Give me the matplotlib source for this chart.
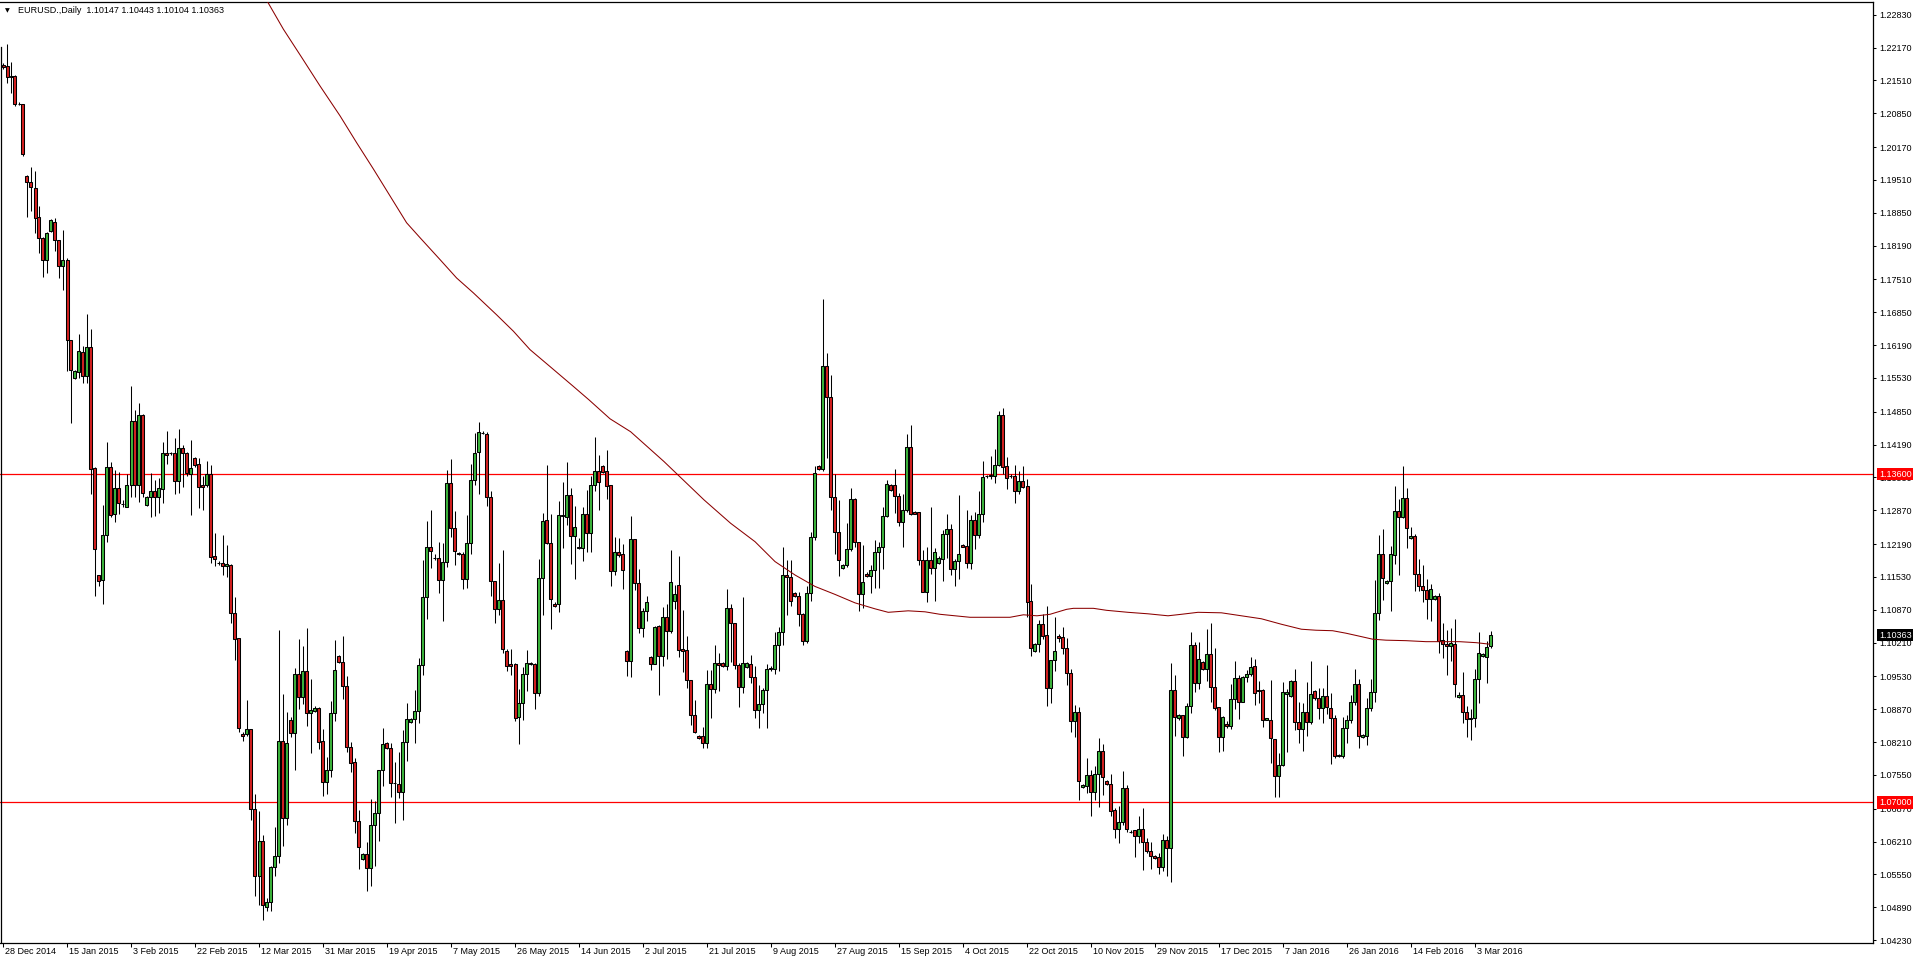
import matplotlib.pyplot as plt
import numpy as np

plt.rcParams['font.family'] = ['Liberation Sans', 'DejaVu Sans']

symbol = 'EURUSD.,Daily'

# daily OHLC, 28 Dec 2014 .. 8 Mar 2016 (broker has Sunday bars)
opens = [
    1.2183, 1.2180, 1.2158, 1.2159, 1.2103, 1.2103, 1.1958, 1.1947, 1.1934, 1.1876,
    1.1835, 1.1791, 1.1849, 1.1867, 1.1830, 1.1778, 1.1791, 1.1629, 1.1553, 1.1566,
    1.1605, 1.1556, 1.1616, 1.1372, 1.1156, 1.1147, 1.1238, 1.1374, 1.1279, 1.1331,
    1.1299, 1.1294, 1.1337, 1.1466, 1.1337, 1.1478, 1.1298, 1.1314, 1.1326, 1.1314,
    1.1330, 1.1402, 1.1402, 1.1402, 1.1346, 1.1412, 1.1403, 1.1360, 1.1393, 1.1380,
    1.1337, 1.1337, 1.1361, 1.1195, 1.1181, 1.1181, 1.1176, 1.1178, 1.1080, 1.1031,
    1.0837, 1.0837, 1.0847, 1.0687, 1.0551, 1.0622, 1.0489, 1.0500, 1.0571, 1.0593,
    1.0823, 1.0669, 1.0866, 1.0839, 1.0958, 1.0912, 1.0964, 1.0879, 1.0884, 1.0889,
    1.0824, 1.0740, 1.0766, 1.0880, 1.0994, 1.0983, 1.0933, 1.0811, 1.0781, 1.0662,
    1.0586, 1.0596, 1.0568, 1.0654, 1.0678, 1.0765, 1.0819, 1.0810, 1.0738, 1.0737,
    1.0721, 1.0821, 1.0862, 1.0867, 1.0884, 1.0976, 1.1113, 1.1213, 1.1192, 1.1192,
    1.1146, 1.1184, 1.1341, 1.1251, 1.1201, 1.1199, 1.1149, 1.1221, 1.1348, 1.1405,
    1.1443, 1.1440, 1.1313, 1.1144, 1.1089, 1.1106, 1.1004, 1.0978, 1.0979, 1.0872,
    1.0899, 1.0957, 1.0981, 1.0979, 1.0920, 1.1150, 1.1267, 1.1222, 1.1099, 1.1098,
    1.1276, 1.1274, 1.1318, 1.1236, 1.1213, 1.1212, 1.1279, 1.1242, 1.1337, 1.1366,
    1.1376, 1.1366, 1.1338, 1.1166, 1.1203, 1.1199, 1.1004, 1.0985, 1.1229, 1.1141,
    1.1051, 1.1085, 1.0992, 1.0979, 1.1055, 1.0995, 1.1072, 1.1045, 1.1105, 1.1137,
    1.1008, 1.1006, 1.0946, 1.0876, 1.0834, 1.0834, 1.0820, 1.0937, 1.0927, 1.0981,
    1.0981, 1.0975, 1.1090, 1.1060, 1.0977, 1.0931, 1.0972, 1.0979, 1.0951, 1.0886,
    1.0898, 1.0925, 1.0970, 1.0968, 1.1017, 1.1043, 1.1157, 1.1152, 1.1120, 1.1115,
    1.1078, 1.1025, 1.1121, 1.1233, 1.1376, 1.1371, 1.1577, 1.1515, 1.1313, 1.1244,
    1.1172, 1.1177, 1.1209, 1.1310, 1.1223, 1.1118, 1.1160, 1.1154, 1.1167, 1.1203,
    1.1214, 1.1276, 1.1337, 1.1337, 1.1316, 1.1263, 1.1288, 1.1414, 1.1283, 1.1283,
    1.1187, 1.1123, 1.1187, 1.1172, 1.1182, 1.1190, 1.1239, 1.1249, 1.1170, 1.1185,
    1.1217, 1.1215, 1.1182, 1.1267, 1.1237, 1.1280, 1.1356, 1.1355, 1.1355, 1.1379,
    1.1479, 1.1376, 1.1356, 1.1356, 1.1326, 1.1346, 1.1336, 1.1105, 1.1005, 1.1018,
    1.1058, 1.1036, 1.0929, 1.0986, 1.1035, 1.1032, 1.1011, 1.0961, 1.0864, 1.0881,
    1.0730, 1.0733, 1.0755, 1.0720, 1.0758, 1.0804, 1.0742, 1.0736, 1.0684, 1.0646,
    1.0660, 1.0728, 1.0641, 1.0644, 1.0633, 1.0646, 1.0620, 1.0603, 1.0593, 1.0591,
    1.0571, 1.0624, 1.0608, 1.0926, 1.0869, 1.0876, 1.0831, 1.0894, 1.1016, 1.0939,
    1.0983, 1.0969, 1.0998, 1.0931, 1.0891, 1.0832, 1.0858, 1.0854, 1.0907, 1.0949,
    1.0902, 1.0951, 1.0959, 1.0974, 1.0926, 1.0926, 1.0866, 1.0866, 1.0828, 1.0752,
    1.0775, 1.0918, 1.0914, 1.0944, 1.0861, 1.0847, 1.0881, 1.0861, 1.0924, 1.0909,
    1.0889, 1.0914, 1.0889, 1.0869, 1.0793, 1.0793, 1.0849, 1.0866, 1.0901, 1.0937,
    1.0832, 1.0833, 1.0889, 1.0922, 1.1080, 1.1199, 1.1140, 1.1144, 1.1197, 1.1286,
    1.1274, 1.1311, 1.1232, 1.1236, 1.1160, 1.1135, 1.1127, 1.1108, 1.1108, 1.1115,
    1.1026, 1.1018, 1.1015, 1.1018, 1.0911, 1.0916, 1.0882, 1.0867, 1.0869, 1.0947,
    1.0994, 1.0992, 1.10147,
]
highs = [
    1.2186, 1.2224, 1.2188, 1.2161, 1.2108, 1.2104, 1.1960, 1.1978, 1.1969, 1.1898,
    1.1836, 1.1846, 1.1872, 1.1874, 1.1831, 1.1850, 1.1794, 1.1630, 1.1570, 1.1641,
    1.1617, 1.1682, 1.1652, 1.1375, 1.1157, 1.1297, 1.1425, 1.1385, 1.1368, 1.1365,
    1.1308, 1.1361, 1.1537, 1.1488, 1.1502, 1.1480, 1.1315, 1.1363, 1.1348, 1.1352,
    1.1425, 1.1447, 1.1405, 1.1432, 1.1451, 1.1418, 1.1404, 1.1429, 1.1394, 1.1392,
    1.1356, 1.1387, 1.1378, 1.1242, 1.1185, 1.1238, 1.1217, 1.1180, 1.1112, 1.1031,
    1.0841, 1.0906, 1.0848, 1.0716, 1.0683, 1.0634, 1.0507, 1.0572, 1.0650, 1.1046,
    1.0918, 1.0882, 1.0871, 1.0970, 1.1029, 1.1015, 1.1050, 1.0948, 1.0893, 1.0892,
    1.0847, 1.0792, 1.0903, 1.1026, 1.0996, 1.1034, 1.0953, 1.0821, 1.0789, 1.0685,
    1.0598, 1.0620, 1.0707, 1.0702, 1.0766, 1.0849, 1.0821, 1.0819, 1.0782, 1.0802,
    1.0845, 1.0900, 1.0869, 1.0926, 1.0990, 1.1187, 1.1265, 1.1288, 1.1200, 1.1223,
    1.1221, 1.1368, 1.1390, 1.1286, 1.1204, 1.1204, 1.1278, 1.1381, 1.1442, 1.1464,
    1.1446, 1.1444, 1.1326, 1.1145, 1.1182, 1.1207, 1.1008, 1.1009, 1.0980, 1.0928,
    1.0973, 1.1006, 1.0983, 1.0980, 1.1190, 1.1282, 1.1378, 1.1279, 1.1102, 1.1306,
    1.1343, 1.1385, 1.1331, 1.1296, 1.1231, 1.1293, 1.1328, 1.1355, 1.1435, 1.1398,
    1.1379, 1.1408, 1.1338, 1.1234, 1.1231, 1.1219, 1.1006, 1.1276, 1.1230, 1.1170,
    1.1091, 1.1115, 1.0994, 1.1055, 1.1056, 1.1093, 1.1099, 1.1207, 1.1137, 1.1195,
    1.1087, 1.1034, 1.0946, 1.0906, 1.0836, 1.0851, 1.0967, 1.0967, 1.1016, 1.1001,
    1.0983, 1.1129, 1.1099, 1.1061, 1.0981, 1.1113, 1.0982, 1.0996, 1.0975, 1.0935,
    1.0930, 1.0978, 1.0975, 1.1043, 1.1053, 1.1214, 1.1187, 1.1187, 1.1123, 1.1123,
    1.1080, 1.1134, 1.1243, 1.1377, 1.1378, 1.1712, 1.1604, 1.1559, 1.1360, 1.1308,
    1.1180, 1.1261, 1.1331, 1.1311, 1.1224, 1.1217, 1.1163, 1.1177, 1.1227, 1.1224,
    1.1294, 1.1347, 1.1340, 1.1371, 1.1321, 1.1320, 1.1440, 1.1458, 1.1285, 1.1284,
    1.1207, 1.1214, 1.1293, 1.1212, 1.1195, 1.1247, 1.1280, 1.1259, 1.1189, 1.1318,
    1.1220, 1.1288, 1.1277, 1.1284, 1.1326, 1.1386, 1.1358, 1.1396, 1.1410, 1.1487,
    1.1492, 1.1395, 1.1359, 1.1378, 1.1366, 1.1376, 1.1350, 1.1139, 1.1020, 1.1066,
    1.1078, 1.1095, 1.0987, 1.1073, 1.1038, 1.1052, 1.1031, 1.0968, 1.0896, 1.0892,
    1.0736, 1.0790, 1.0765, 1.0774, 1.0830, 1.0817, 1.0744, 1.0758, 1.0689, 1.0693,
    1.0763, 1.0735, 1.0644, 1.0645, 1.0673, 1.0688, 1.0628, 1.0620, 1.0594, 1.0598,
    1.0636, 1.0632, 1.0981, 1.0956, 1.0878, 1.0876, 1.0900, 1.1043, 1.1022, 1.1023,
    1.0984, 1.1048, 1.1060, 1.1010, 1.0891, 1.0874, 1.0864, 1.0938, 1.0985, 1.0956,
    1.0954, 1.0967, 1.0993, 1.0989, 1.0944, 1.0927, 1.0870, 1.0946, 1.0828, 1.0800,
    1.0941, 1.0927, 1.0946, 1.0968, 1.0901, 1.0899, 1.0941, 1.0984, 1.0926, 1.0929,
    1.0929, 1.0976, 1.0920, 1.0876, 1.0797, 1.0872, 1.0876, 1.0916, 1.0968, 1.0948,
    1.0838, 1.0910, 1.0948, 1.1146, 1.1237, 1.1249, 1.1146, 1.1215, 1.1336, 1.1309,
    1.1376, 1.1331, 1.1253, 1.1239, 1.1190, 1.1177, 1.1148, 1.1139, 1.1117, 1.1120,
    1.1061, 1.1047, 1.1050, 1.1069, 1.0921, 1.0963, 1.0894, 1.0887, 1.0969, 1.1042,
    1.1001, 1.1024, 1.10443,
]
lows = [
    1.2175, 1.2145, 1.2125, 1.2099, 1.2101, 1.2000, 1.1876, 1.1888, 1.1844, 1.1804,
    1.1755, 1.1764, 1.1846, 1.1808, 1.1753, 1.1729, 1.1568, 1.1462, 1.1550, 1.1552,
    1.1543, 1.1543, 1.1319, 1.1114, 1.1134, 1.1099, 1.1224, 1.1273, 1.1264, 1.1280,
    1.1293, 1.1293, 1.1314, 1.1314, 1.1304, 1.1314, 1.1296, 1.1273, 1.1275, 1.1282,
    1.1302, 1.1381, 1.1398, 1.1320, 1.1322, 1.1334, 1.1355, 1.1277, 1.1375, 1.1292,
    1.1287, 1.1333, 1.1182, 1.1175, 1.1177, 1.1157, 1.1152, 1.1060, 1.0986, 1.0842,
    1.0823, 1.0834, 1.0664, 1.0511, 1.0494, 1.0463, 1.0481, 1.0481, 1.0551, 1.0579,
    1.0612, 1.0655, 1.0832, 1.0766, 1.0888, 1.0898, 1.0854, 1.0799, 1.0881, 1.0808,
    1.0712, 1.0717, 1.0751, 1.0863, 1.0981, 1.0908, 1.0802, 1.0762, 1.0638, 1.0567,
    1.0584, 1.0522, 1.0532, 1.0572, 1.0623, 1.0732, 1.0808, 1.0711, 1.0659, 1.0708,
    1.0665, 1.0784, 1.0860, 1.0819, 1.0859, 1.0956, 1.1069, 1.1172, 1.1187, 1.1120,
    1.1065, 1.1174, 1.1234, 1.1177, 1.1198, 1.1129, 1.1130, 1.1199, 1.1338, 1.1320,
    1.1440, 1.1296, 1.1115, 1.1061, 1.1077, 1.1001, 1.0965, 1.0956, 1.0864, 1.0817,
    1.0866, 1.0924, 1.0976, 1.0887, 1.0914, 1.1077, 1.1219, 1.1048, 1.1093, 1.1083,
    1.1212, 1.1257, 1.1179, 1.1149, 1.1209, 1.1185, 1.1204, 1.1204, 1.1326, 1.1288,
    1.1363, 1.1309, 1.1134, 1.1157, 1.1194, 1.1128, 1.0954, 1.0952, 1.1126, 1.1041,
    1.1032, 1.1064, 1.0967, 1.0978, 1.0916, 1.0975, 1.0989, 1.1040, 1.1088, 1.0993,
    1.0963, 1.0929, 1.0855, 1.0839, 1.0828, 1.0809, 1.0810, 1.0869, 1.0920, 1.0924,
    1.0972, 1.0966, 1.0983, 1.0969, 1.0892, 1.0919, 1.0970, 1.0939, 1.0870, 1.0849,
    1.0880, 1.0850, 1.0965, 1.0959, 1.0965, 1.1017, 1.1077, 1.1095, 1.1113, 1.1055,
    1.1016, 1.1020, 1.1105, 1.1227, 1.1369, 1.1367, 1.1393, 1.1288, 1.1200, 1.1154,
    1.1170, 1.1174, 1.1206, 1.1214, 1.1085, 1.1090, 1.1152, 1.1120, 1.1130, 1.1130,
    1.1170, 1.1274, 1.1325, 1.1281, 1.1255, 1.1214, 1.1284, 1.1278, 1.1279, 1.1178,
    1.1122, 1.1103, 1.1160, 1.1105, 1.1180, 1.1144, 1.1192, 1.1156, 1.1134, 1.1148,
    1.1213, 1.1172, 1.1170, 1.1210, 1.1232, 1.1264, 1.1352, 1.1350, 1.1341, 1.1377,
    1.1360, 1.1330, 1.1352, 1.1302, 1.1320, 1.1331, 1.1073, 1.0995, 1.1003, 1.1003,
    1.1028, 1.0894, 1.0900, 1.0964, 1.1023, 1.0998, 1.0935, 1.0842, 1.0832, 1.0705,
    1.0729, 1.0719, 1.0673, 1.0705, 1.0690, 1.0715, 1.0734, 1.0673, 1.0629, 1.0618,
    1.0654, 1.0640, 1.0638, 1.0591, 1.0619, 1.0565, 1.0598, 1.0567, 1.0587, 1.0557,
    1.0563, 1.0551, 1.0539, 1.0833, 1.0866, 1.0794, 1.0829, 1.0879, 1.0922, 1.0928,
    1.0967, 1.0943, 1.0902, 1.0886, 1.0802, 1.0804, 1.0850, 1.0847, 1.0887, 1.0868,
    1.0901, 1.0942, 1.0954, 1.0896, 1.0899, 1.0852, 1.0865, 1.0780, 1.0711, 1.0710,
    1.0773, 1.0802, 1.0911, 1.0845, 1.0819, 1.0804, 1.0834, 1.0858, 1.0905, 1.0867,
    1.0859, 1.0878, 1.0777, 1.0789, 1.0791, 1.0789, 1.0819, 1.0859, 1.0896, 1.0809,
    1.0830, 1.0815, 1.0884, 1.0902, 1.1067, 1.1107, 1.1139, 1.1085, 1.1180, 1.1157,
    1.1272, 1.1212, 1.1229, 1.1125, 1.1125, 1.1103, 1.1069, 1.1065, 1.1106, 1.1001,
    1.0990, 1.0955, 1.0985, 1.0911, 1.0909, 1.0859, 1.0832, 1.0825, 1.0852, 1.0900,
    1.0993, 1.0939, 1.10104,
]
closes = [
    1.2178, 1.2158, 1.2159, 1.2103, 1.2104, 1.2004, 1.1947, 1.1936, 1.1874, 1.1834,
    1.1791, 1.1845, 1.1870, 1.1830, 1.1778, 1.1791, 1.1629, 1.1570, 1.1568, 1.1607,
    1.1556, 1.1616, 1.1370, 1.1209, 1.1145, 1.1238, 1.1374, 1.1277, 1.1331, 1.1301,
    1.1300, 1.1337, 1.1466, 1.1337, 1.1478, 1.1321, 1.1313, 1.1326, 1.1314, 1.1331,
    1.1402, 1.1398, 1.1402, 1.1346, 1.1412, 1.1403, 1.1363, 1.1373, 1.1379, 1.1333,
    1.1333, 1.1361, 1.1193, 1.1189, 1.1181, 1.1176, 1.1179, 1.1080, 1.1029, 1.0849,
    1.0834, 1.0847, 1.0687, 1.0551, 1.0622, 1.0493, 1.0500, 1.0571, 1.0593, 1.0823,
    1.0669, 1.0820, 1.0839, 1.0958, 1.0912, 1.0964, 1.0879, 1.0885, 1.0890, 1.0822,
    1.0740, 1.0766, 1.0880, 1.0967, 1.0983, 1.0933, 1.0811, 1.0780, 1.0662, 1.0610,
    1.0596, 1.0568, 1.0654, 1.0678, 1.0765, 1.0817, 1.0810, 1.0738, 1.0738, 1.0721,
    1.0821, 1.0867, 1.0867, 1.0884, 1.0976, 1.1112, 1.1213, 1.1206, 1.1192, 1.1146,
    1.1184, 1.1341, 1.1251, 1.1206, 1.1200, 1.1149, 1.1221, 1.1348, 1.1403, 1.1445,
    1.1443, 1.1313, 1.1144, 1.1089, 1.1106, 1.1008, 1.0975, 1.0975, 1.0870, 1.0899,
    1.0957, 1.0981, 1.0978, 1.0920, 1.1150, 1.1265, 1.1222, 1.1109, 1.1095, 1.1278,
    1.1277, 1.1318, 1.1236, 1.1254, 1.1212, 1.1279, 1.1242, 1.1338, 1.1366, 1.1343,
    1.1365, 1.1336, 1.1166, 1.1203, 1.1198, 1.1168, 1.0985, 1.1229, 1.1141, 1.1051,
    1.1085, 1.1103, 1.0979, 1.1053, 1.0995, 1.1072, 1.1045, 1.1142, 1.1118, 1.1006,
    1.1005, 1.0946, 1.0876, 1.0842, 1.0830, 1.0820, 1.0937, 1.0927, 1.0981, 1.0977,
    1.0975, 1.1090, 1.1060, 1.0977, 1.0931, 1.0981, 1.0980, 1.0951, 1.0886, 1.0898,
    1.0925, 1.0968, 1.0968, 1.1017, 1.1043, 1.1157, 1.1152, 1.1105, 1.1115, 1.1078,
    1.1025, 1.1121, 1.1233, 1.1363, 1.1371, 1.1577, 1.1515, 1.1313, 1.1244, 1.1187,
    1.1177, 1.1209, 1.1310, 1.1223, 1.1118, 1.1142, 1.1154, 1.1167, 1.1203, 1.1214,
    1.1276, 1.1340, 1.1327, 1.1316, 1.1263, 1.1288, 1.1414, 1.1280, 1.1280, 1.1187,
    1.1123, 1.1187, 1.1172, 1.1203, 1.1192, 1.1239, 1.1249, 1.1170, 1.1185, 1.1200,
    1.1214, 1.1182, 1.1267, 1.1237, 1.1280, 1.1353, 1.1356, 1.1358, 1.1379, 1.1479,
    1.1375, 1.1351, 1.1356, 1.1326, 1.1346, 1.1334, 1.1103, 1.1010, 1.1018, 1.1058,
    1.1035, 1.0929, 1.0986, 1.1004, 1.1031, 1.1011, 1.0961, 1.0864, 1.0881, 1.0742,
    1.0734, 1.0755, 1.0720, 1.0758, 1.0804, 1.0750, 1.0736, 1.0683, 1.0646, 1.0660,
    1.0728, 1.0646, 1.0641, 1.0633, 1.0646, 1.0620, 1.0603, 1.0593, 1.0588, 1.0571,
    1.0624, 1.0608, 1.0926, 1.0872, 1.0875, 1.0831, 1.0894, 1.1016, 1.0939, 1.0988,
    1.0969, 1.0998, 1.0931, 1.0889, 1.0832, 1.0872, 1.0854, 1.0907, 1.0949, 1.0902,
    1.0951, 1.0959, 1.0973, 1.0920, 1.0923, 1.0866, 1.0869, 1.0829, 1.0752, 1.0775,
    1.0921, 1.0921, 1.0944, 1.0861, 1.0847, 1.0881, 1.0861, 1.0917, 1.0909, 1.0889,
    1.0914, 1.0891, 1.0869, 1.0794, 1.0795, 1.0849, 1.0866, 1.0901, 1.0937, 1.0833,
    1.0836, 1.0889, 1.0922, 1.1080, 1.1199, 1.1150, 1.1145, 1.1199, 1.1286, 1.1274,
    1.1311, 1.1252, 1.1236, 1.1160, 1.1134, 1.1127, 1.1108, 1.1128, 1.1115, 1.1024,
    1.1018, 1.1015, 1.1021, 1.0938, 1.0916, 1.0882, 1.0867, 1.0869, 1.0947, 1.1000,
    1.0999, 1.1013, 1.10363,
]

# moving average line, read at sample bars
ma_bar = [65.0, 70.1, 74.7, 79.25, 84.25, 88.4, 92.6, 96.75, 100.9, 104.25,
          109.25, 113.4, 117.6, 123.4, 127.6, 131.75, 136.75, 142.6, 146.5, 151.75,
          156.9, 165.25, 175.25, 181.9, 188, 193, 198, 203, 208, 213,
          218, 221.3, 226.3, 230.5, 234.25, 241.75, 251.75, 255.1, 258.5, 261.75,
          263.4, 265.9, 267.6, 272.6, 275.9, 281.25, 286.25, 291.25, 294.6, 298.75,
          304.6, 309.6, 314.6, 319.6, 324.6, 328.25, 332.4, 335.75, 339.1, 342.4,
          345.75, 350.75, 355.75, 364.1, 368.25, 371.6]
ma_val = [1.2325, 1.2254, 1.2197, 1.2140, 1.2080, 1.2026, 1.1973, 1.1919, 1.1865, 1.1835,
          1.1791, 1.1754, 1.1724, 1.1680, 1.1647, 1.1610, 1.1576, 1.1536, 1.1509, 1.1471,
          1.1445, 1.1385, 1.1308, 1.1261, 1.1224, 1.1184, 1.1157, 1.1134, 1.1118, 1.1101,
          1.1089, 1.1082, 1.1085, 1.1083, 1.1078, 1.1072, 1.1072, 1.1077, 1.1075, 1.1078,
          1.1082, 1.1088, 1.1090, 1.1090, 1.1086, 1.1082, 1.1079, 1.1075, 1.1078, 1.1082,
          1.1081, 1.1075, 1.1069, 1.1058, 1.1048, 1.1046, 1.1045, 1.1040, 1.1034, 1.1028,
          1.1026, 1.1025, 1.1023, 1.1023, 1.1021, 1.1018]

levels = [1.13600, 1.07000]

date_labels = ['28 Dec 2014', '15 Jan 2015', '3 Feb 2015', '22 Feb 2015', '12 Mar 2015',
               '31 Mar 2015', '19 Apr 2015', '7 May 2015', '26 May 2015', '14 Jun 2015',
               '2 Jul 2015', '21 Jul 2015', '9 Aug 2015', '27 Aug 2015', '15 Sep 2015',
               '4 Oct 2015', '22 Oct 2015', '10 Nov 2015', '29 Nov 2015', '17 Dec 2015',
               '7 Jan 2016', '26 Jan 2016', '14 Feb 2016', '3 Mar 2016']
bars_per_label = 16

price_ticks = [1.22830, 1.22170, 1.21510, 1.20850, 1.20170, 1.19510, 1.18850, 1.18190,
               1.17510, 1.16850, 1.16190, 1.15530, 1.14850, 1.14190, 1.13530, 1.12870,
               1.12190, 1.11530, 1.10870, 1.10210, 1.09530, 1.08870, 1.08210, 1.07550,
               1.06870, 1.06210, 1.05550, 1.04890, 1.04230]

o = np.array(opens)
h = np.array(highs)
l = np.array(lows)
c = np.array(closes)
x = np.arange(len(o))

W, H = 1916, 964
fig = plt.figure(figsize=(W / 100, H / 100), dpi=100)
ax = fig.add_axes([0, 21 / H, 1873 / W, 941 / H])

ax.vlines(x, l, h, color='black', lw=0.75, zorder=2)
up = c >= o
body_col = np.where(up, '#3cb43c', '#d42020')
ax.bar(x, np.abs(c - o), bottom=np.minimum(o, c), width=0.75,
       color=body_col, edgecolor='black', linewidth=0.75, zorder=3)

ax.plot(ma_bar, ma_val, color='#8b0000', lw=0.75, zorder=4)
for lv in levels:
    ax.axhline(lv, color='#ff0000', lw=0.9, zorder=1)

ax.set_xlim(-0.75, 467.5)
ax.set_ylim(1.041731, 1.230872)

# left border line below the header
ax.axvline(-0.4, ymax=0.952, color='black', lw=0.9)
ax.spines['left'].set_visible(False)
for s in ['top', 'right', 'bottom']:
    ax.spines[s].set_linewidth(0.9)

ax.yaxis.tick_right()
ax.set_yticks(price_ticks)
ax.set_yticklabels(['%.5f' % t for t in price_ticks])
ax.tick_params(axis='y', length=2.5, width=0.75, pad=2, labelsize=6.5)

tick_bars = [bars_per_label * k for k in range(len(date_labels))]
ax.set_xticks(tick_bars)
ax.set_xticklabels([])
ax.tick_params(axis='x', length=3, width=0.75)
for b, lab in zip(tick_bars, date_labels):
    ax.annotate(lab, xy=(b, 0), xycoords=('data', 'axes fraction'),
                xytext=(2, -4), textcoords='offset pixels',
                ha='left', va='top', fontsize=6.5, annotation_clip=False)

# price boxes on the right scale
for lv in levels:
    ax.annotate('%.5f' % lv, xy=(1, lv), xycoords=('axes fraction', 'data'),
                xytext=(6, 0), textcoords='offset pixels', ha='left', va='center',
                fontsize=6.5, color='white', zorder=10, annotation_clip=False,
                bbox=dict(boxstyle='square,pad=0.2', fc='#ff0000', ec='none'))
ax.annotate('%.5f' % c[-1], xy=(1, c[-1]), xycoords=('axes fraction', 'data'),
            xytext=(6, 0), textcoords='offset pixels', ha='left', va='center',
            fontsize=6.5, color='white', zorder=10, annotation_clip=False,
            bbox=dict(boxstyle='square,pad=0.2', fc='black', ec='none'))

header = '%s  %.5f %.5f %.5f %.5f' % (symbol, o[-1], h[-1], l[-1], c[-1])
fig.text(5 / W, 1 - 10.5 / H, '\u25BC', fontsize=4.5, family='DejaVu Sans',
         va='center', ha='left')
fig.text(18 / W, 1 - 10.5 / H, header, fontsize=6.5, va='center', ha='left')

fig.savefig('out.png', dpi=100)
